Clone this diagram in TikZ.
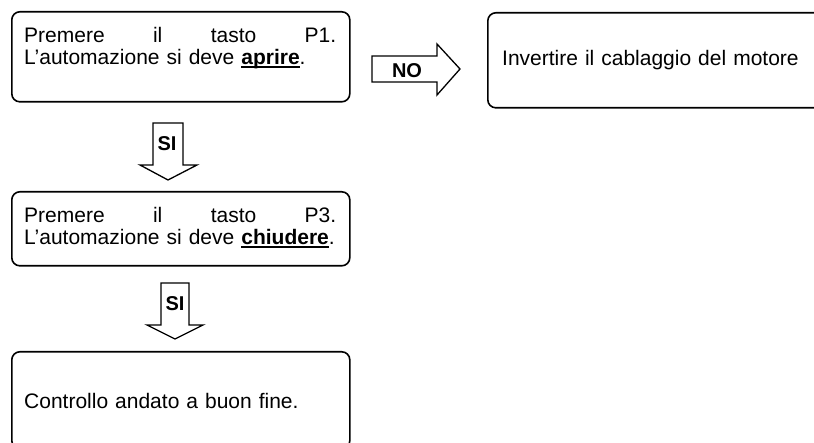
\documentclass[tikz,border=0pt]{standalone}
\usepackage{fontspec}
\setmainfont{Liberation Sans}
\usetikzlibrary{calc}
\newcommand{\fullline}[1]{\hbox to 312pt{#1}}
\newcommand{\thickul}[1]{\setbox0\hbox{#1}\leavevmode\rlap{\rule[-3.5pt]{\wd0}{1.7pt}}\box0}

\begin{document}
\begin{tikzpicture}[x=1pt,y=-1pt,font=\fontsize{21}{22}\selectfont]
\tikzstyle{box}=[draw,line width=1.6pt,rounded corners=8pt,anchor=north west,inner sep=0pt]
\tikzstyle{txt}=[anchor=north west,inner sep=0pt,text width=312pt,align=left]
\tikzstyle{block}=[draw,line width=1.3pt,fill=white,line join=miter]
\tikzstyle{tag}=[font=\fontsize{20}{24}\selectfont\bfseries,inner sep=0pt]

\clip (0,0) rectangle (814,443);

% boxes
\node(0)[box,minimum width=338pt,minimum height=90pt] at (11,11) {};
\node(1)[box,minimum width=343pt,minimum height=95pt] at (487,12) {};
\node(2)[box,minimum width=338pt,minimum height=74pt] at (11,191) {};
\node(3)[box,minimum width=338pt,minimum height=97pt] at (11,351) {};

% texts
\node(0t)[txt] at ($(0.north west)+(13,16)$) {\fullline{Premere\hfill il\hfill tasto\hfill P1.}\\
    L’automazione si deve \textbf{\thickul{aprire}}.};
\node(1t)[txt,anchor=base west] at ($(1.north west)+(15,54)$) {Invertire il cablaggio del motore};
\node(2t)[txt] at ($(2.north west)+(13,16)$) {\fullline{Premere\hfill il\hfill tasto\hfill P3.}\\
    L’automazione si deve \textbf{\thickul{chiudere}}.};
\node(3t)[txt,anchor=base west] at ($(3.north west)+(13,58)$) {Controllo andato a buon fine.};

% block arrows
\draw[block] (372,56) -- (437,56) -- (437,44) -- (460,69) -- (437,95) -- (437,82) -- (372,82) -- cycle;
\node(no)[tag] at (407,71) {NO};
\draw[block] (153,123) -- (183,123) -- (183,165) -- (197,165) -- (168,180) -- (140,165) -- (153,165) -- cycle;
\node(si1)[tag] at (167,144) {SI};
\draw[block] (161,283) -- (189,283) -- (189,325) -- (203,325) -- (175,339) -- (147,325) -- (161,325) -- cycle;
\node(si2)[tag] at (175,304) {SI};

\end{tikzpicture}
\end{document}
